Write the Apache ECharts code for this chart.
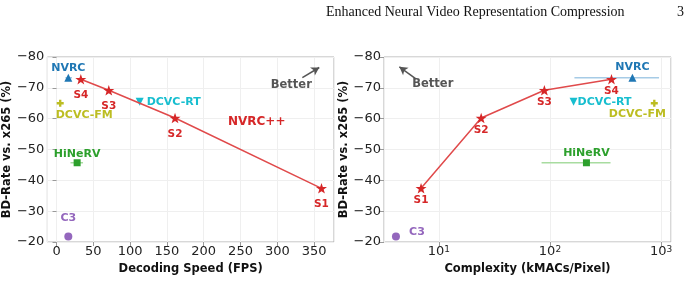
<!DOCTYPE html>
<html>
<head>
<meta charset="utf-8">
<script src="https://cdn.jsdelivr.net/npm/echarts@6/dist/echarts.min.js"></script>
<style>
html, body { margin: 0; padding: 0; background: #fff; }
#chart { width: 690px; height: 294px; }
</style>
</head>
<body>
<div id="chart"></div>
<script>
// NVRC++ operating points
var sLabels = ['S1', 'S2', 'S3', 'S4'];
var nvrcppFps = [360, 161, 71, 33];
var nvrcppCplx = [6.9, 24, 89, 358];
var nvrcppBd = [-37.4, -60.2, -69.2, -72.8];

// baselines
var baseNames = ['NVRC', 'DCVC-RT', 'DCVC-FM', 'HiNeRV', 'C3'];
var baseFps = [16, 113, 5, 28, 16];
var baseCplx = [553, 163, 870, 213, 4.1];
var baseBd = [-73.3, -65.5, -65, -45.7, -21.8];

// horizontal ranges (error bars)
var nvrcFpsRange = [12, 21];
var hinervFpsRange = [19, 36];
var nvrcCplxRange = [166, 960];
var hinervCplxRange = [84, 351];

var bdTicks = [-80, -70, -60, -50, -40, -30, -20];

var font = 'DejaVu Sans';
var red = '#d62728';
var baseColors = ['#1f77b4', '#17becf', '#bcbd22', '#2ca02c', '#9467bd'];
var baseRangeColors = ['#a6cbe6', null, null, '#a8dca0', null];
var starPath = 'path://M0,-10L2.35,-3.24L9.51,-3.09L3.8,1.24L5.88,8.09L0,4L-5.88,8.09L-3.8,1.24L-9.51,-3.09L-2.35,-3.24Z';
var plusPath = 'path://M1,0H2V1H3V2H2V3H1V2H0V1H1Z';
var baseSymbols = ['triangle', 'triangle', plusPath, 'rect', 'circle'];
var baseRotate = [0, 180, 0, 0, 0];
var baseSizes = [8, 8, 7, 7, 8];
var leftOff = [[0, -10], [34, 0], [24, 12], [0, -9], [0, -18]];
var rightOff = [[0, -10.5], [31, 0], [-17, 11], [0, -10], [21, -4]];

var chart = echarts.init(document.getElementById('chart'));

function minusFmt(v) {
	return String(v).replace('-', '\u2212');
}

function yAxisOf(grid) {
	return {
		type: 'value',
		gridIndex: grid,
		inverse: true,
		min: bdTicks[0],
		max: bdTicks[bdTicks.length - 1],
		interval: 10,
		name: 'BD-Rate vs. x265 (%)',
		nameLocation: 'middle',
		nameGap: 27,
		nameTextStyle: { fontFamily: font, fontWeight: 'bold', fontSize: 11.5, color: '#111' },
		axisLine: { show: false },
		axisTick: { show: true, length: 4, lineStyle: { color: '#999' } },
		axisLabel: { fontFamily: font, fontSize: 13, color: '#222', margin: 3, formatter: minusFmt },
		splitLine: { show: true, lineStyle: { color: '#efefef', width: 1 } }
	};
}

var series = [];

function rangeSeries(grid, r, y, color) {
	return {
		type: 'line',
		xAxisIndex: grid,
		yAxisIndex: grid,
		symbol: 'none',
		silent: true,
		lineStyle: { color: color, width: 1.5 },
		data: [[r[0], y], [r[1], y]],
		z: 1
	};
}

function addPanel(grid, xs, baseXs, nvrcRange, hinervRange, off, sDy) {
	series.push(rangeSeries(grid, nvrcRange, baseBd[0], baseRangeColors[0]));
	series.push(rangeSeries(grid, hinervRange, baseBd[3], baseRangeColors[3]));
	series.push({
		type: 'line',
		xAxisIndex: grid,
		yAxisIndex: grid,
		symbol: starPath,
		symbolSize: 11,
		symbolKeepAspect: true,
		itemStyle: { color: red, opacity: 1 },
		lineStyle: { color: '#e04a4b', width: 1.5 },
		label: {
			show: true,
			position: 'inside',
			offset: [0, sDy],
			formatter: function(p) { return sLabels[p.dataIndex]; },
			fontFamily: font, fontWeight: 'bold', fontSize: 10.5, color: red
		},
		data: xs.map(function(x, i) { return [x, nvrcppBd[i]]; }),
		z: 5
	});
	for (var i = 0; i < baseNames.length; i++) {
		series.push({
			type: 'scatter',
			name: baseNames[i],
			xAxisIndex: grid,
			yAxisIndex: grid,
			symbol: baseSymbols[i],
			symbolRotate: baseRotate[i],
			symbolSize: baseSizes[i],
			itemStyle: { color: baseColors[i], opacity: 1 },
			label: {
				show: true,
				position: 'inside',
				offset: off[i],
				formatter: baseNames[i],
				fontFamily: font, fontWeight: 'bold', fontSize: 11, color: baseColors[i]
			},
			data: [[baseXs[i], baseBd[i]]],
			z: 4
		});
	}
}

addPanel(0, nvrcppFps, baseFps, nvrcFpsRange, hinervFpsRange, leftOff, 16);
addPanel(1, nvrcppCplx, baseCplx, nvrcCplxRange, hinervCplxRange, rightOff, 12);

// annotations: "Better" arrows and NVRC++ text
function arrow(grid, from, to) {
	return {
		type: 'line',
		xAxisIndex: grid,
		yAxisIndex: grid,
		data: [],
		markLine: {
			silent: true,
			symbol: ['none', 'arrow'],
			symbolSize: [7, 8],
			label: { show: false },
			lineStyle: { color: '#555', width: 1.5, type: 'solid', opacity: 1 },
			data: [[{ coord: from }, { coord: to }]]
		}
	};
}
series.push(arrow(0, [334, -73.3], [357, -76.6]));
series.push(arrow(1, [6.2, -72.9], [4.4, -76.8]));

function note(grid, pos, text, color, size) {
	return {
		type: 'scatter',
		xAxisIndex: grid,
		yAxisIndex: grid,
		symbolSize: 0,
		silent: true,
		itemStyle: { opacity: 1 },
		label: {
			show: true, position: 'inside', formatter: text,
			fontFamily: font, fontWeight: 'bold', fontSize: size, color: color
		},
		data: [pos]
	};
}
series.push(note(0, [319, -71], 'Better', '#555', 11.5));
series.push(note(1, [8.8, -71.2], 'Better', '#555', 11.5));
series.push(note(0, [272, -58.8], 'NVRC++', red, 12));

var option = {
	animation: false,
	backgroundColor: '#fff',
	graphic: [{
		type: 'text', left: 326, top: 5,
		style: { text: 'Enhanced Neural Video Representation Compression', font: '14px "Liberation Serif"', fill: '#111' }
	}, {
		type: 'text', left: 677, top: 5,
		style: { text: '3', font: '14px "Liberation Serif"', fill: '#111' }
	}],
	grid: [
		{ left: 46, top: 57, width: 288, height: 185, show: true, borderColor: '#b0b0b0', borderWidth: 1, backgroundColor: 'transparent' },
		{ left: 384, top: 57, width: 287, height: 185, show: true, borderColor: '#b0b0b0', borderWidth: 1, backgroundColor: 'transparent' }
	],
	xAxis: [{
		type: 'value',
		gridIndex: 0,
		min: -12.5,
		max: 377,
		splitNumber: 8,
		name: 'Decoding Speed (FPS)',
		nameLocation: 'middle',
		nameGap: 14,
		nameTextStyle: { fontFamily: font, fontWeight: 'bold', fontSize: 11.5, color: '#111' },
		axisLine: { show: false },
		axisTick: { show: true, length: 4, lineStyle: { color: '#999' } },
		axisLabel: { fontFamily: font, fontSize: 13, color: '#222', margin: 3, showMinLabel: false, showMaxLabel: false },
		splitLine: { show: true, lineStyle: { color: '#efefef', width: 1 } }
	}, {
		type: 'log',
		gridIndex: 1,
		logBase: 10,
		min: 3.2,
		max: 1230,
		name: 'Complexity (kMACs/Pixel)',
		nameLocation: 'middle',
		nameGap: 14,
		nameTextStyle: { fontFamily: font, fontWeight: 'bold', fontSize: 11.5, color: '#111' },
		axisLine: { show: false },
		axisTick: { show: true, length: 4, lineStyle: { color: '#999' } },
		minorTick: { show: false },
		axisLabel: {
			margin: 3, showMinLabel: false, showMaxLabel: false,
			formatter: function(v) {
				var e = Math.round(Math.log(v) / Math.LN10);
				return '{b|10}{s|' + e + '}';
			},
			rich: {
				b: { fontFamily: font, fontSize: 13, color: '#222' },
				s: { fontFamily: font, fontSize: 9, color: '#222', verticalAlign: 'top' }
			}
		},
		splitLine: { show: true, lineStyle: { color: '#efefef', width: 1 } }
	}],
	yAxis: [yAxisOf(0), yAxisOf(1)],
	series: series
};

chart.setOption(option);
</script>
</body>
</html>
